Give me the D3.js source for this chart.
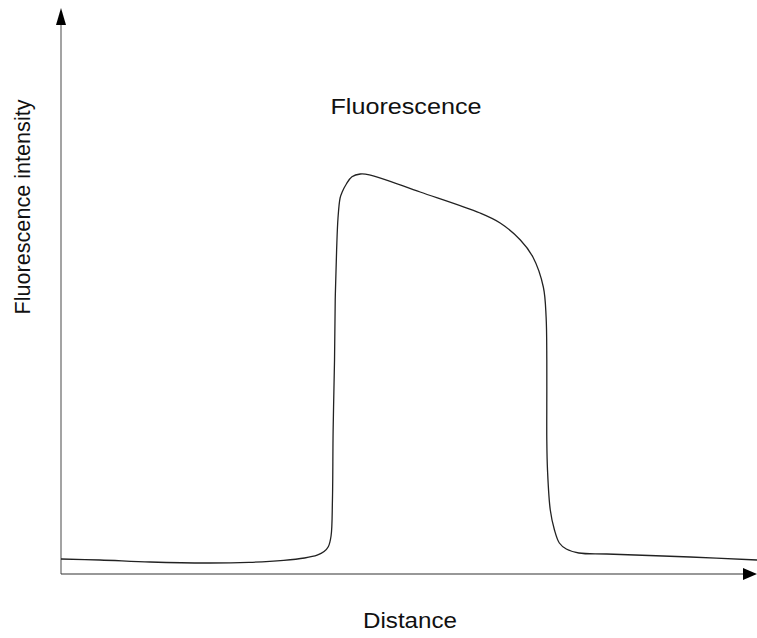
<!DOCTYPE html>
<html>
<head>
<meta charset="utf-8">
<script src="https://cdn.jsdelivr.net/npm/d3@7"></script>
<style>
  body { margin: 0; background: #fff; }
  text { font-family: "Liberation Sans", Arial, sans-serif; fill: #111; }
</style>
</head>
<body>
<div id="chart"></div>
<script>
// profile: distance (0-100) vs intensity (0-100)
var distance = [0, 5.6, 12.8, 21.0, 27.0, 32.0, 35.0, 36.8, 37.8, 38.4, 38.8, 39.0, 39.1, 39.3, 39.4, 39.6,
	39.8, 40.1, 40.4, 41.0, 41.8, 43.0, 44.3, 51.6, 60.2, 63.1, 66.0, 67.8, 69.3, 69.7, 69.8, 69.8, 69.8,
	69.9, 70.3, 70.9, 71.6, 72.6, 74.4, 78.4, 90.4, 100];
var intensity = [3.75, 3.5, 3.0, 2.75, 2.9, 3.4, 4.0, 4.7, 5.6, 6.8, 9.5, 18.5, 36, 53.5, 68.5, 81,
	89, 94, 95.5, 97.5, 99.3, 100, 99.8, 95.5, 90.25, 87.75, 83.5, 79.25, 71.75, 64.25, 53.5, 43.5, 33.5,
	26, 16, 11, 7.75, 6.25, 5.25, 5.0, 4.25, 3.5];
var title = "Fluorescence";
var xLabel = "Distance";
var yLabel = "Fluorescence intensity";

var width = 757, height = 638;
var padding = { left: 62, right: 0, top: 174, bottom: 64 };

var svg = d3.select("#chart").append("svg")
	.attr("width", width)
	.attr("height", height);

var x_scale = d3.scaleLinear().domain([0, 100]).range([61, width]);
var y_scale = d3.scaleLinear().domain([0, 100]).range([height - padding.bottom, padding.top]);

var x0 = x_scale(0), y0 = y_scale(0);

// axes with arrow heads
var axisg = svg.append("g").attr("class", "axes");
axisg.append("line")
	.attr("x1", x0).attr("y1", y0)
	.attr("x2", x0).attr("y2", 20)
	.attr("stroke", "#666").attr("stroke-width", 1.2);
axisg.append("path")
	.attr("d", "M" + (x0 - 5) + ",25 L" + x0 + ",8 L" + (x0 + 5) + ",25 Z")
	.attr("fill", "#000");
axisg.append("line")
	.attr("x1", x0).attr("y1", y0)
	.attr("x2", 746).attr("y2", y0)
	.attr("stroke", "#333").attr("stroke-width", 1.2);
axisg.append("path")
	.attr("d", "M743," + (y0 - 6) + " L757," + y0 + " L743," + (y0 + 6) + " Z")
	.attr("fill", "#000");

// curve
var lineCurve = d3.line()
	.curve(d3.curveCatmullRom.alpha(0.5))
	.x(function(d, i) { return x_scale(distance[i]); })
	.y(function(d) { return y_scale(d); });

svg.append("path")
	.attr("d", lineCurve(intensity))
	.attr("fill", "none")
	.attr("stroke", "#222")
	.attr("stroke-width", 1.3);

// labels
svg.append("text")
	.attr("x", 406).attr("y", 114)
	.attr("text-anchor", "middle")
	.attr("font-size", 22)
	.attr("textLength", 151).attr("lengthAdjust", "spacingAndGlyphs")
	.text(title);
svg.append("text")
	.attr("x", 410).attr("y", 628)
	.attr("text-anchor", "middle")
	.attr("font-size", 22)
	.attr("textLength", 94).attr("lengthAdjust", "spacingAndGlyphs")
	.text(xLabel);
svg.append("text")
	.attr("transform", "translate(30,207) rotate(-90)")
	.attr("text-anchor", "middle")
	.attr("font-size", 22)
	.attr("textLength", 215).attr("lengthAdjust", "spacingAndGlyphs")
	.text(yLabel);
</script>
</body>
</html>
